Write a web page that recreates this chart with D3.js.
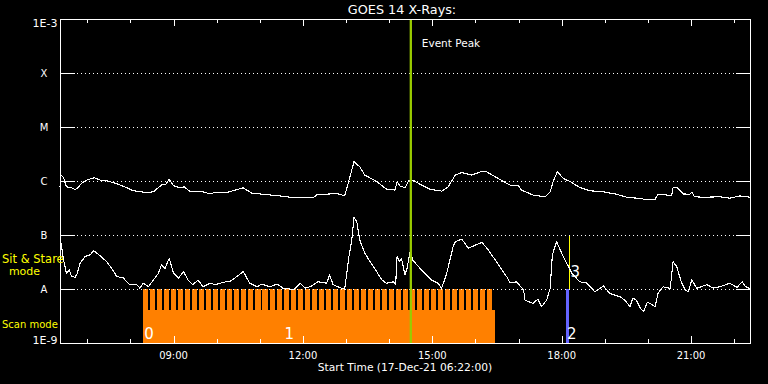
<!DOCTYPE html>
<html><head><meta charset="utf-8">
<script src="https://cdn.jsdelivr.net/npm/d3@7"></script>
<style>html,body{margin:0;padding:0;background:#000;}svg{display:block;}</style>
</head><body>
<svg id="chart" width="768" height="384"></svg>
<script>
// ---------------- data ----------------
const day = "2021-12-17";
const timeRange = ["06:22:00", "22:22:00"];
const levelValues = [1e-9, 1e-8, 1e-7, 1e-6, 1e-5, 1e-4, 1e-3];
const levelLabels = ["1E-9", "A", "B", "C", "M", "X", "1E-3"];
const titleText = "GOES 14 X-Rays:";
const xTitle = "Start Time (17-Dec-21 06:22:00)";
const eventPeak = "14:30:06";
const eventLabel = "Event Peak";

// GOES long channel (1-8 A), W/m^2
const goesLong = [["06:22",7.8e-7],["06:23",1.29e-6],["06:25",1.24e-6],["06:27",1.14e-6],["06:31",7.8e-7],["06:38",7.5e-7],["06:43",6.9e-7],["06:47",7.5e-7],["06:52",9.1e-7],["06:59",1.04e-6],["07:10",1.15e-6],["07:18",1.04e-6],["07:27",1.01e-6],["07:39",9.1e-7],["07:55",7.5e-7],["08:04",6.6e-7],["08:23",6.1e-7],["08:32",6.3e-7],["08:43",8.4e-7],["08:49",8.7e-7],["08:54",1.07e-6],["09:00",8.2e-7],["09:09",7.5e-7],["09:15",7.8e-7],["09:22",6.5e-7],["09:32",6.5e-7],["09:41",6.3e-7],["09:51",5.75e-7],["09:58",6.2e-7],["10:14",6.1e-7],["10:26",6.8e-7],["10:37",7.5e-7],["10:49",5.9e-7],["11:00",5.75e-7],["11:28",5.3e-7],["11:42",5.0e-7],["11:56",4.9e-7],["12:14",4.9e-7],["12:19",5.5e-7],["12:47",5.9e-7],["12:58",5.3e-7],["13:03",9.1e-7],["13:11",2.28e-6],["13:19",1.84e-6],["13:26",1.29e-6],["13:43",9.7e-7],["13:56",7.1e-7],["14:08",6.8e-7],["14:11",9.7e-7],["14:15",8.1e-7],["14:22",7.5e-7],["14:27",1.01e-6],["14:33",1.04e-6],["14:43",8.7e-7],["14:57",7.0e-7],["15:13",6.5e-7],["15:22",7.8e-7],["15:32",1.29e-6],["15:41",1.43e-6],["15:55",1.29e-6],["16:09",1.51e-6],["16:16",1.47e-6],["16:34",1.07e-6],["16:48",8.4e-7],["17:00",8.1e-7],["17:04",6.8e-7],["17:20",5.5e-7],["17:37",5.1e-7],["17:44",6.3e-7],["17:48",9.7e-7],["17:54",1.49e-6],["18:02",1.12e-6],["18:12",9.7e-7],["18:25",7.6e-7],["18:39",6.6e-7],["18:58",6.3e-7],["19:16",5.7e-7],["19:33",4.9e-7],["19:49",4.8e-7],["19:54",4.6e-7],["20:10",4.6e-7],["20:14",5.7e-7],["20:26",5.5e-7],["20:33",5.3e-7],["20:35",7.6e-7],["20:41",7.5e-7],["20:49",5.75e-7],["20:58",5.7e-7],["21:01",6.2e-7],["21:05",5.1e-7],["21:17",5.0e-7],["21:40",5.1e-7],["21:54",4.8e-7],["22:08",5.3e-7],["22:22",5.0e-7]];

// GOES short channel (0.5-4 A), W/m^2
const goesShort = [["06:22",6.5e-8],["06:23",7.7e-8],["06:27",3.4e-8],["06:31",1.95e-8],["06:35",2.25e-8],["06:38",1.7e-8],["06:43",1.65e-8],["06:46",1.95e-8],["06:50",3.0e-8],["06:57",4.0e-8],["07:04",4.3e-8],["07:09",5.1e-8],["07:18",4.1e-8],["07:27",3.2e-8],["07:34",2.4e-8],["07:41",1.7e-8],["07:50",1.6e-8],["07:59",1.2e-8],["08:09",1.2e-8],["08:13",1.04e-8],["08:18",1.28e-8],["08:25",1.1e-8],["08:32",1.47e-8],["08:39",1.95e-8],["08:43",2.8e-8],["08:48",2.4e-8],["08:54",3.7e-8],["09:00",1.95e-8],["09:07",1.6e-8],["09:14",2.1e-8],["09:20",1.47e-8],["09:27",1.2e-8],["09:34",1.47e-8],["09:41",1.1e-8],["09:51",1.28e-8],["09:58",1.2e-8],["10:05",1.28e-8],["10:12",1.35e-8],["10:18",1.36e-8],["10:28",1.7e-8],["10:37",2.1e-8],["10:46",1.28e-8],["10:56",1.1e-8],["11:03",1.24e-8],["11:14",1.09e-8],["11:24",1.24e-8],["11:32",1.04e-8],["11:42",1.0e-8],["11:47",9.6e-9],["11:56",1.28e-8],["12:03",1.04e-8],["12:10",1.1e-8],["12:21",1.36e-8],["12:33",1.28e-8],["12:37",1.82e-8],["12:42",1.2e-8],["12:54",1.03e-8],["12:58",9.9e-9],["13:01",1.95e-8],["13:04",4.0e-8],["13:08",8.1e-8],["13:11",2.1e-7],["13:15",1.74e-7],["13:19",8.1e-8],["13:26",4.6e-8],["13:38",2.6e-8],["13:50",1.47e-8],["13:56",1.28e-8],["14:06",1.36e-8],["14:09",1.2e-8],["14:11",4.0e-8],["14:14",3.2e-8],["14:17",3.7e-8],["14:22",1.82e-8],["14:25",2.45e-8],["14:29",4.9e-8],["14:33",3.4e-8],["14:47",2.1e-8],["14:59",1.47e-8],["15:08",1.28e-8],["15:13",1.03e-8],["15:20",1.95e-8],["15:29",6.1e-8],["15:32",7.5e-8],["15:41",8.4e-8],["15:50",5.7e-8],["16:00",6.5e-8],["16:09",7.3e-8],["16:16",5.7e-8],["16:34",2.6e-8],["16:46",1.5e-8],["16:48",1.29e-8],["16:57",1.36e-8],["17:07",9.6e-9],["17:09",6.2e-9],["17:20",5.4e-9],["17:27",6.5e-9],["17:32",4.7e-9],["17:39",6.2e-9],["17:44",1.03e-8],["17:47",4.3e-8],["17:53",7.5e-8],["18:00",4.6e-8],["18:07",3.0e-8],["18:14",1.98e-8],["18:25",1.36e-8],["18:35",1.29e-8],["18:46",8.9e-9],["18:58",1.14e-8],["19:07",8.3e-9],["19:14",7.7e-9],["19:21",7.2e-9],["19:28",6.2e-9],["19:35",4.7e-9],["19:39",6.8e-9],["19:44",6.2e-9],["19:49",4.5e-9],["19:54",3.8e-9],["19:59",5.7e-9],["20:03",5.4e-9],["20:10",4.7e-9],["20:14",8.3e-9],["20:21",1.1e-8],["20:31",1.03e-8],["20:35",3.2e-8],["20:40",2.6e-8],["20:47",1.28e-8],["20:52",9.6e-9],["20:56",8.9e-9],["21:01",1.47e-8],["21:08",1.03e-8],["21:22",1.2e-8],["21:31",1.04e-8],["21:40",1.1e-8],["21:54",1.28e-8],["22:04",1.07e-8],["22:11",1.36e-8],["22:15",1.14e-8],["22:22",1.0e-8]];

// observation rasters (start times), each lasting rasterMinutes
const rasterStarts = ["08:17:48","08:27:34","08:37:19","08:47:05","08:56:50","09:06:36","09:16:22","09:26:07","09:35:53","09:45:38","09:55:24","10:05:10","10:14:55","10:24:41","10:34:26","10:44:12","10:53:58","11:03:43","11:13:29","11:23:14","11:33:00","11:42:46","11:52:31","12:02:17","12:12:02","12:21:48","12:31:34","12:41:19","12:51:05","13:00:50","13:10:36","13:20:22","13:30:07","13:39:53","13:49:38","13:59:24","14:09:10","14:18:55","14:28:41","14:38:26","14:48:12","14:57:58","15:07:43","15:17:29","15:27:14","15:37:00","15:46:46","15:56:31","16:06:17","16:16:02"];
const rasterMinutes = 7;
const scanSpan = ["08:17:48", "16:27:00"];
const stareTop = 1e-8;
const scanTop = 4.1e-9;
const scanObs = ["18:06:00", "18:10:36"];
const stareObs = "18:10:50";
const obsNames = ["0", "1", "2", "3"];
const obsTimes = ["08:17:48", "11:33:00", "18:06:00", "18:10:50"];
const modeLabels = ["Sit & Stare", "mode", "Scan mode"];

// ---------------- chart ----------------
const FONT = "DejaVu Sans";
const parseFull = d3.timeParse("%Y-%m-%d %H:%M:%S");
const T = s => parseFull(day + " " + (s.length === 5 ? s + ":00" : s));
const L = 60, R = 750, TOP = 19, BOT = 343;
const x = d3.scaleTime().domain(timeRange.map(T)).range([L, R]);
const y = d3.scaleLog().domain([levelValues[0], levelValues[levelValues.length - 1]]).range([BOT, TOP]);
const rx = t => Math.round(x(t));
const ry = v => Math.round(y(v));

const svg = d3.select("#chart");
svg.append("rect").attr("width", 768).attr("height", 384).attr("fill", "#000");

const ORANGE = "#ff8000";
// scan band base
svg.append("rect")
  .attr("x", rx(T(scanSpan[0]))).attr("y", ry(scanTop))
  .attr("width", rx(T(scanSpan[1])) - rx(T(scanSpan[0])))
  .attr("height", ry(1e-9) - ry(scanTop))
  .attr("fill", ORANGE).attr("shape-rendering", "crispEdges");
// raster teeth
svg.append("g").selectAll("rect").data(rasterStarts).join("rect")
  .attr("x", d => rx(T(d)))
  .attr("y", ry(stareTop))
  .attr("width", d => rx(d3.timeMinute.offset(T(d), rasterMinutes)) - rx(T(d)))
  .attr("height", ry(1e-9) - ry(stareTop))
  .attr("fill", ORANGE).attr("shape-rendering", "crispEdges");
// scan obs (blue)
svg.append("rect")
  .attr("x", rx(T(scanObs[0]))).attr("y", ry(stareTop))
  .attr("width", rx(T(scanObs[1])) - rx(T(scanObs[0])))
  .attr("height", ry(1e-9) - ry(stareTop))
  .attr("fill", "#6464ff").attr("shape-rendering", "crispEdges");
// stare obs (yellow line)
svg.append("line")
  .attr("x1", rx(T(stareObs)) + 0.5).attr("x2", rx(T(stareObs)) + 0.5)
  .attr("y1", ry(1e-7)).attr("y2", ry(1e-8))
  .attr("stroke", "#ffff00").attr("stroke-width", 1).attr("shape-rendering", "crispEdges");

// dotted grid lines
svg.append("g").selectAll("line").data(levelValues.slice(1, -1)).join("line")
  .attr("x1", L + 15).attr("x2", R - 14)
  .attr("y1", d => ry(d) + 0.5).attr("y2", d => ry(d) + 0.5)
  .attr("stroke", "#fff").attr("stroke-width", 1)
  .attr("stroke-dasharray", "1,3").attr("stroke-dashoffset", -2)
  .attr("shape-rendering", "crispEdges");

// axes
function styleAxis(g) {
  g.select(".domain").remove();
  g.selectAll("line").attr("stroke", "#fff").attr("shape-rendering", "crispEdges");
  g.selectAll("text").remove();
}
svg.append("g").attr("transform", `translate(0,${BOT})`)
  .call(d3.axisTop(x).ticks(d3.timeHour.every(1)).tickSize(4)).call(styleAxis);
svg.append("g").attr("transform", `translate(0,${BOT})`)
  .call(d3.axisTop(x).ticks(d3.timeHour.every(3)).tickSize(7)).call(styleAxis);
svg.append("g").attr("transform", `translate(0,${TOP})`)
  .call(d3.axisBottom(x).ticks(d3.timeHour.every(1)).tickSize(4)).call(styleAxis);
svg.append("g").attr("transform", `translate(0,${TOP})`)
  .call(d3.axisBottom(x).ticks(d3.timeHour.every(3)).tickSize(7)).call(styleAxis);
svg.append("g").attr("transform", `translate(${L},0)`)
  .call(d3.axisRight(y).tickValues(levelValues).tickSize(15)).call(styleAxis);
svg.append("g").attr("transform", `translate(${R},0)`)
  .call(d3.axisLeft(y).tickValues(levelValues).tickSize(14)).call(styleAxis);

// frame
svg.append("rect").attr("x", L + 0.5).attr("y", TOP + 0.5)
  .attr("width", R - L).attr("height", BOT - TOP)
  .attr("fill", "none").attr("stroke", "#fff").attr("stroke-width", 1)
  .attr("shape-rendering", "crispEdges");

// x tick labels
svg.append("g").selectAll("text").data(x.ticks(d3.timeHour.every(3))).join("text")
  .attr("x", d => x(d)).attr("y", 359)
  .attr("text-anchor", "middle").attr("fill", "#fff")
  .attr("font-family", FONT).attr("font-size", 10)
  .text(d3.timeFormat("%H:%M"));
svg.append("text").attr("x", (L + R) / 2).attr("y", 371)
  .attr("text-anchor", "middle").attr("fill", "#fff")
  .attr("font-family", FONT).attr("font-size", 10.7).text(xTitle);

// y labels
svg.append("g").selectAll("text").data(levelValues).join("text")
  .attr("x", (d, i) => levelLabels[i].length > 1 ? 57.5 : 44)
  .attr("y", d => Math.min(Math.max(y(d), 23), 340) + 4)
  .attr("text-anchor", (d, i) => levelLabels[i].length > 1 ? "end" : "middle")
  .attr("fill", "#fff").attr("font-family", FONT)
  .attr("font-size", (d, i) => levelLabels[i].length > 1 ? 11 : 10)
  .text((d, i) => levelLabels[i]);

// title
svg.append("text").attr("x", 402).attr("y", 14)
  .attr("text-anchor", "middle").attr("fill", "#fff")
  .attr("font-family", FONT).attr("font-size", 12.8).text(titleText);

// curves
const line = d3.line().x(d => x(T(d[0]))).y(d => y(d[1]));
[goesLong, goesShort].forEach(s => {
  svg.append("path").datum(s).attr("d", line)
    .attr("fill", "none").attr("stroke", "#fff").attr("stroke-width", 1.1)
    .attr("stroke-linejoin", "round").attr("shape-rendering", "crispEdges");
});

// event peak line
svg.append("line")
  .attr("x1", x(T(eventPeak))).attr("x2", x(T(eventPeak)))
  .attr("y1", TOP + 1).attr("y2", BOT)
  .attr("stroke", "#99cc00").attr("stroke-width", 2.3);
svg.append("text").attr("x", x(T(eventPeak)) + 11).attr("y", 47)
  .attr("fill", "#fff").attr("font-family", FONT).attr("font-size", 10.5).text(eventLabel);

// observation labels
svg.append("g").selectAll("text").data(obsNames).join("text")
  .attr("x", (d, i) => x(T(obsTimes[i])) + 1)
  .attr("y", (d, i) => i === 3 ? y(stareTop) - 12 : y(1e-9) - 4)
  .attr("fill", "#fff").attr("font-family", FONT).attr("font-size", 15)
  .text(d => d);

// mode labels
svg.append("text").attr("x", 2).attr("y", 263).attr("fill", "#ffff00")
  .attr("font-family", FONT).attr("font-size", 11.5).text(modeLabels[0]);
svg.append("text").attr("x", 24.5).attr("y", 275).attr("text-anchor", "middle").attr("fill", "#ffff00")
  .attr("font-family", FONT).attr("font-size", 11).text(modeLabels[1]);
svg.append("text").attr("x", 2).attr("y", 328).attr("fill", "#ffff00")
  .attr("font-family", FONT).attr("font-size", 10).text(modeLabels[2]);
</script>
</body></html>
